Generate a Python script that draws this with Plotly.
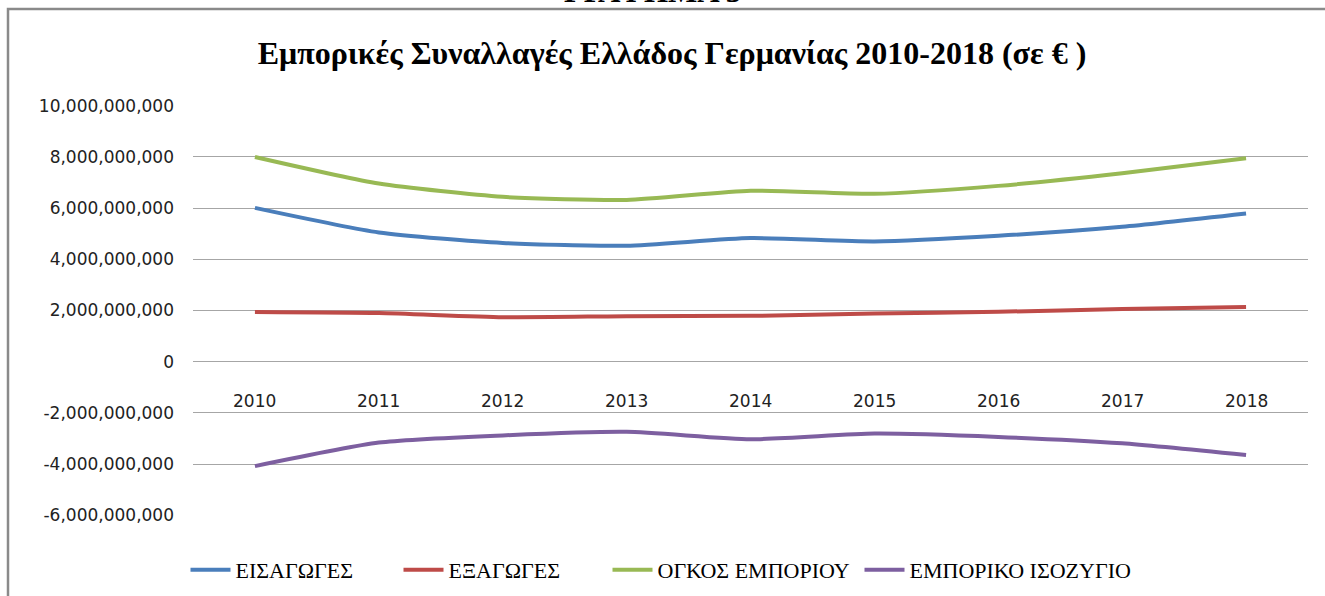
import plotly.graph_objects as go

years = ["2010", "2011", "2012", "2013", "2014", "2015", "2016", "2017", "2018"]
imports = [6.01e9, 5.05e9, 4.64e9, 4.53e9, 4.83e9, 4.70e9, 4.92e9, 5.27e9, 5.79e9]
exports = [1.94e9, 1.90e9, 1.74e9, 1.78e9, 1.79e9, 1.88e9, 1.95e9, 2.06e9, 2.14e9]
volume = [8.00e9, 6.96e9, 6.44e9, 6.32e9, 6.68e9, 6.56e9, 6.87e9, 7.36e9, 7.95e9]
balance = [-4.08e9, -3.16e9, -2.88e9, -2.74e9, -3.03e9, -2.81e9, -2.94e9, -3.19e9, -3.65e9]

series_names = ["ΕΙΣΑΓΩΓΕΣ", "ΕΞΑΓΩΓΕΣ", "ΟΓΚΟΣ ΕΜΠΟΡΙΟΥ", "ΕΜΠΟΡΙΚΟ ΙΣΟΖΥΓΙΟ"]
series_colors = ["#4A7EBB", "#BE4B48", "#98B954", "#7D5FA0"]
legend_widths = [158, 154, 197, 250]

y_tickvals = [-6e9, -4e9, -2e9, 0, 2e9, 4e9, 6e9, 8e9, 10e9]
y_ticktext = ["-6,000,000,000", "-4,000,000,000", "-2,000,000,000", "0",
              "2,000,000,000", "4,000,000,000", "6,000,000,000",
              "8,000,000,000", "10,000,000,000"]

title_text = "Εμπορικές Συναλλαγές Ελλάδος Γερμανίας 2010-2018 (σε € )"
header_text = "ΓΡΑΦΗΜΑ 3"

fig = go.Figure()
for name, vals, col, lw in zip(series_names, [imports, exports, volume, balance],
                               series_colors, legend_widths):
    fig.add_trace(go.Scatter(
        x=years, y=vals, name=name, mode="lines", legendwidth=lw,
        line=dict(color=col, width=4, shape="spline", smoothing=0.6),
    ))

# category labels next to the zero line (Excel style)
for i, yr in enumerate(years):
    fig.add_annotation(x=i, y=0, xref="x", yref="y", text=yr, showarrow=False,
                       yanchor="middle", yshift=-39,
                       font=dict(family="DejaVu Sans", size=17, color="#222222"))

# header cut at the top
fig.add_annotation(x=(652 - 193) / 1115, y=(516 - 11) / 411, xref="paper", yref="paper",
                   text="<b>" + header_text + "</b>", showarrow=False, yanchor="bottom",
                   font=dict(family="Liberation Serif", size=31, color="#000000"))

# chart border
fig.add_shape(type="rect", xref="paper", yref="paper",
              x0=(8 - 193) / 1115, x1=(1340 - 193) / 1115,
              y0=(516 - 610) / 411, y1=(516 - 9) / 411,
              line=dict(color="#8a8a8a", width=2.5), layer="below")

fig.update_layout(
    width=1325, height=596,
    margin=dict(l=193, r=17, t=105, b=80, autoexpand=False),
    paper_bgcolor="white", plot_bgcolor="white",
    title=dict(text="<b>" + title_text + "</b>", x=(672 - 193) / 1115, xref="paper",
               xanchor="center", y=1 - 53 / 596, yanchor="middle",
               font=dict(family="Liberation Serif", size=32, color="#000000")),
    showlegend=True,
    legend=dict(orientation="h", x=(675 - 193) / 1115, xanchor="center",
                y=(516 - 570) / 411, yanchor="middle",
                font=dict(family="Liberation Serif", size=22, color="#000000"),
                itemwidth=40, tracegroupgap=0),
    xaxis=dict(type="category", range=[-0.5, 8.5], showticklabels=False,
               showgrid=False, zeroline=False, showline=False, ticks=""),
    yaxis=dict(range=[-6.03e9, 10.03e9], tickvals=y_tickvals, ticktext=y_ticktext,
               showgrid=True, gridcolor="#a6a6a6", gridwidth=1.3,
               zeroline=True, zerolinecolor="#a6a6a6", zerolinewidth=1.3,
               showline=False, ticks="", ticklabelstandoff=18,
               tickfont=dict(family="DejaVu Sans", size=17, color="#222222")),
)

fig.write_html("out.html", config={"displayModeBar": False},
               post_script="document.body.style.margin='0';")
